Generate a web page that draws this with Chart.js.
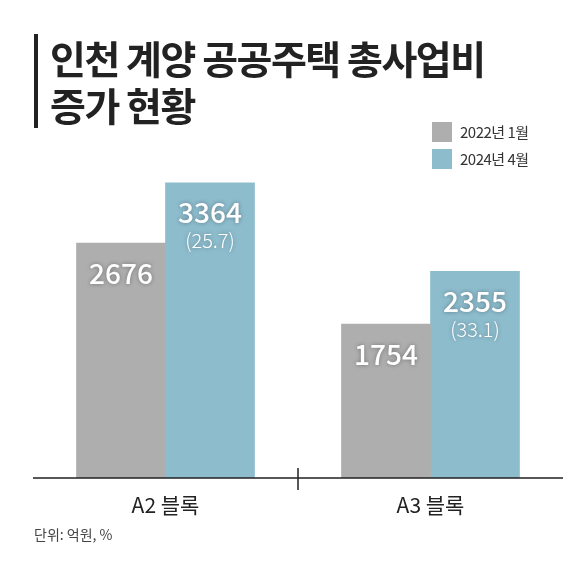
<!DOCTYPE html>
<html>
<head>
<meta charset="utf-8">
<script src="https://cdn.jsdelivr.net/npm/chart.js@4"></script>
<style>
  body { margin: 0; background: #fff; font-family: "Noto Sans CJK KR", sans-serif; }
  #wrap { position: relative; width: 580px; height: 562px; }
  #chart { position: absolute; left: 0; top: 0; }
  .title { position: absolute; left: 34px; top: 34px; border-left: 4px solid #222; padding-left: 12px;
           font-size: 39px; font-weight: 700; line-height: 47px; color: #222; letter-spacing: -1.5px; }
  .legend { position: absolute; left: 432px; top: 118px; font-size: 15px; color: #333; letter-spacing: -0.5px; }
  .legend div { display: flex; align-items: center; height: 27px; }
  .legend span { display: inline-block; width: 20px; height: 20px; margin-right: 8px; }
  .unit { position: absolute; left: 34px; top: 524px; font-size: 14px; color: #444; }
</style>
</head>
<body>
<div id="wrap">
  <canvas id="chart" width="580" height="562"></canvas>
  <div class="title">인천 계양 공공주택 총사업비<br>증가 현황</div>
  <div class="legend">
    <div><span style="background:#aeaeae"></span>2022년 1월</div>
    <div><span style="background:#8dbccd"></span>2024년 4월</div>
  </div>
  <div class="unit">단위: 억원, %</div>
</div>
<script>
// Data
const categories = ['A2 블록', 'A3 블록'];
const seriesNames = ['2022년 1월', '2024년 4월'];
const values2022 = [2676, 1754];
const values2024 = [3364, 2355];
const increasePct = ['25.7', '33.1'];

// Value labels drawn on top of each bar
const labelPlugin = {
    id: 'labels',
    afterDatasetsDraw(chart) {
        const ctx = chart.ctx;
        ctx.save();
        ctx.textAlign = 'center';
        ctx.textBaseline = 'top';
        ctx.fillStyle = '#fff';
        ctx.shadowColor = 'rgba(0,0,0,0.35)';
        ctx.shadowBlur = 4;
        chart.data.datasets.forEach((ds, di) => {
            chart.getDatasetMeta(di).data.forEach((bar, i) => {
                ctx.font = '500 28px "Noto Sans CJK KR"';
                ctx.fillText(ds.data[i], bar.x, bar.y + 16);
                if (di === 1) {
                    ctx.font = '300 20px "Noto Sans CJK KR"';
                    ctx.fillText('(' + increasePct[i] + ')', bar.x, bar.y + 48);
                }
            });
        });
        // baseline and middle tick
        ctx.shadowBlur = 0;
        const a = chart.chartArea;
        ctx.strokeStyle = '#222';
        ctx.lineWidth = 1.5;
        ctx.beginPath();
        ctx.moveTo(a.left, a.bottom);
        ctx.lineTo(a.right, a.bottom);
        const mid = (a.left + a.right) / 2;
        ctx.moveTo(mid, a.bottom - 10);
        ctx.lineTo(mid, a.bottom + 12);
        ctx.stroke();
        ctx.restore();
    }
};

new Chart(document.getElementById('chart'), {
    type: 'bar',
    data: {
        labels: categories,
        datasets: [
            { label: seriesNames[0], data: values2022, backgroundColor: '#aeaeae' },
            { label: seriesNames[1], data: values2024, backgroundColor: '#8dbccd' }
        ]
    },
    options: {
        responsive: false,
        animation: false,
        layout: { padding: { left: 33, right: 17, top: 127, bottom: 0 } },
        categoryPercentage: 0.819,
        barThickness: 89,
        plugins: { legend: { display: false }, tooltip: { enabled: false } },
        scales: {
            y: { display: false, min: 0, max: 4000 },
            x: {
                grid: { display: false },
                border: { display: false },
                ticks: { color: '#222', font: { size: 21, family: 'Noto Sans CJK KR' }, padding: 6 },
                afterFit(scale) { scale.height = 84; }
            }
        }
    },
    plugins: [labelPlugin]
});
</script>
</body>
</html>
